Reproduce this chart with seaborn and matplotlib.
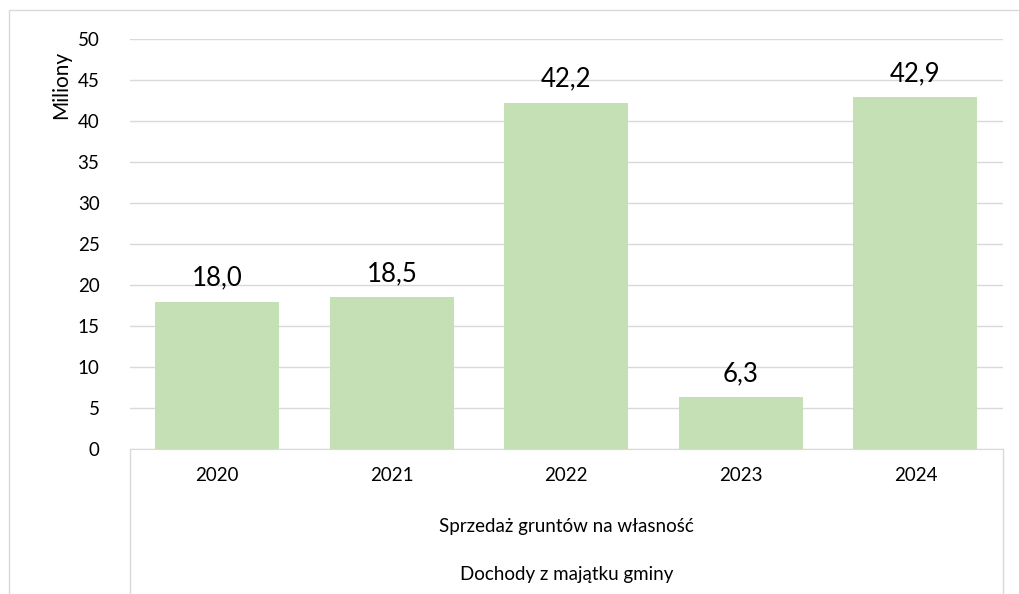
import numpy as np
import pandas as pd
import matplotlib.pyplot as plt
import seaborn as sns
from matplotlib.patches import Rectangle

# values
years = ['2020', '2021', '2022', '2023', '2024']
values = [18.0, 18.5, 42.2, 6.3, 42.9]
group_label = 'Sprzedaż gruntów na własność'
outer_label = 'Dochody z majątku gminy'

df = pd.DataFrame({'Rok': years, 'Wartosc': values})

sns.set_style('white')
plt.rcParams['font.family'] = ['Lato', 'DejaVu Sans']
plt.rcParams['text.color'] = 'black'

fig = plt.figure(figsize=(10.2, 5.94), dpi=100)
ax = fig.add_axes([0.1275, 0.244, 0.8555, 0.690])

sns.barplot(data=df, x='Rok', y='Wartosc', color='#c5e0b4', saturation=1,
            width=0.71, linewidth=0, ax=ax)

ax.set_ylim(0, 50)
ax.set_xlim(-0.5, 4.5)
ax.set_yticks(np.arange(0, 51, 5))
ax.tick_params(axis='y', labelsize=13.5, length=0, pad=22, labelcolor='black')
ax.tick_params(axis='x', labelsize=13.5, length=0, pad=13, labelcolor='black')
ax.yaxis.grid(True, color='#d9d9d9', linewidth=1)
ax.set_axisbelow(True)
for s in ['top', 'right', 'left']:
    ax.spines[s].set_visible(False)
ax.spines['bottom'].set_color('#d9d9d9')
ax.set_xlabel('')
ax.set_ylabel('Miliony', fontsize=15, color='black')
ax.yaxis.set_label_coords(-0.068, 0.888)

# data labels with decimal comma
for i, v in enumerate(values):
    ax.text(i, v + 1.4, f'{v:.1f}'.replace('.', ','), ha='center', va='bottom',
            fontsize=18.5)

# multi-level category axis
ax.text(0.5, -0.19, group_label, transform=ax.transAxes, ha='center',
        va='center', fontsize=13.5)
ax.text(0.5, -0.307, outer_label, transform=ax.transAxes, ha='center',
        va='center', fontsize=13.5)
for xv in [0.0, 1.0]:
    ax.plot([xv, xv], [0, -0.4], transform=ax.transAxes, color='#d9d9d9',
            linewidth=1, clip_on=False)

# chart border
fig.patches.append(Rectangle((9 / 1020, -0.1), 1.2, 1 - 10 / 594 + 0.1,
                             transform=fig.transFigure, fill=False,
                             edgecolor='#d9d9d9', linewidth=1))

fig.savefig('out.png', dpi=100)
